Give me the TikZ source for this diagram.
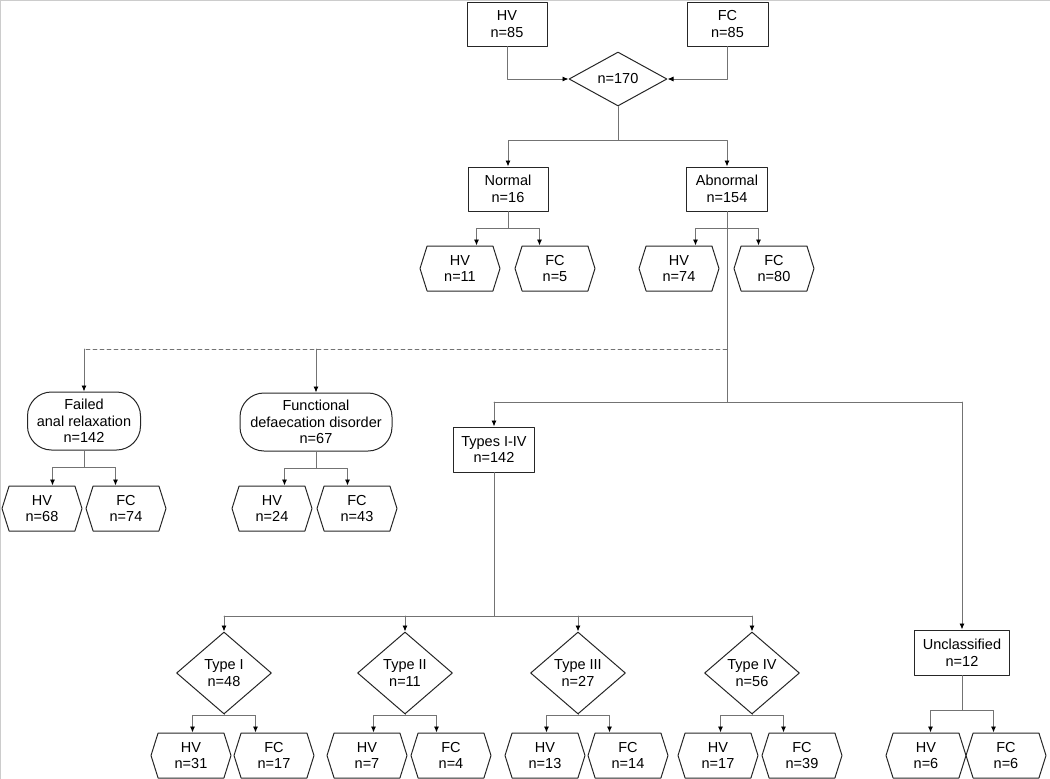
\documentclass[tikz,border=0pt]{standalone}
\usepackage{fontspec}
\setmainfont{Liberation Sans}
\usetikzlibrary{arrows.meta, shapes.geometric, shapes.symbols}

\newcommand\hexfork[5]{%
  \path (#1.south) ++(0,#4) coordinate (#1k) ++(-#5,0) coordinate (#1l) ++(2*#5,0) coordinate (#1r);
  \draw[link] (#1.south) -- (#1k);
  \draw[link] (#1l) -- (#1r);
  \draw[linkarr] (#1l) -- (#2.north -| #1l);
  \draw[linkarr] (#1r) -- (#3.north -| #1r);}

\begin{document}
\begin{tikzpicture}[x=1pt, y=-1pt, line cap=round, line join=round,
  every node/.style={font=\fontsize{14.5}{16.5}\selectfont, align=center, inner sep=0pt, draw=black!85, line width=1pt},
  rbox/.style={rectangle, minimum height=44},
  hexa/.style={signal, signal to=east and west, signal pointer angle=145, minimum width=80, minimum height=45},
  pill/.style={rectangle, rounded corners=24pt, minimum height=58},
  dia/.style={diamond, minimum width=95, minimum height=82},
  link/.style={draw=black!55, line width=0.9pt},
  linkarr/.style={link, -{Latex[length=6pt, width=5pt, color=black]}},
  dashlink/.style={link, dash pattern=on 4pt off 3pt}]
	\useasboundingbox (0,0) rectangle (1050,779);
	\draw[black!20, line width=1.2pt] (0,0.6) -- (1050,0.6) (0.6,0) -- (0.6,779);

	\node[rbox, minimum width=80] (hvTop) at (507,24) {HV\\n=85};
	\node[rbox, minimum width=81] (fcTop) at (727.5,24) {FC\\n=85};
	\node[diamond, minimum width=98, minimum height=54] (total) at (618,79) {n=170};
	\node[rbox, minimum width=80] (normal) at (508,189) {Normal\\n=16};
	\node[rbox, minimum width=81] (abnormal) at (727,189) {Abnormal\\n=154};
	\node[hexa] (nHV) at (460,268.5) {HV\\n=11};
	\node[hexa] (nFC) at (555,268.5) {FC\\n=5};
	\node[hexa] (aHV) at (679,268.5) {HV\\n=74};
	\node[hexa] (aFC) at (774,268.5) {FC\\n=80};

	\node[pill, minimum width=113] (failed) at (84,421) {Failed\\anal relaxation\\n=142};
	\node[pill, minimum width=152] (funct) at (316,422) {Functional\\defaecation disorder\\n=67};
	\node[hexa] (fHV) at (42,508.5) {HV\\n=68};
	\node[hexa] (fFC) at (126,508.5) {FC\\n=74};
	\node[hexa] (dHV) at (272,508.5) {HV\\n=24};
	\node[hexa] (dFC) at (357,508.5) {FC\\n=43};
	\node[rbox, minimum width=81, minimum height=45] (types) at (494,449.5) {Types I-IV\\n=142};

	\node[dia] (t1) at (224,673) {Type I\\n=48};
	\node[dia] (t2) at (405,673) {Type II\\n=11};
	\node[dia] (t3) at (578,673) {Type III\\n=27};
	\node[dia] (t4) at (752,673) {Type IV\\n=56};
	\node[rbox, minimum width=95, minimum height=45] (unclass) at (962,652.5) {Unclassified\\n=12};
	\node[hexa] (t1HV) at (191,755.5) {HV\\n=31};
	\node[hexa] (t1FC) at (274,755.5) {FC\\n=17};
	\node[hexa] (t2HV) at (367,755.5) {HV\\n=7};
	\node[hexa] (t2FC) at (451,755.5) {FC\\n=4};
	\node[hexa] (t3HV) at (545,755.5) {HV\\n=13};
	\node[hexa] (t3FC) at (628,755.5) {FC\\n=14};
	\node[hexa] (t4HV) at (718,755.5) {HV\\n=17};
	\node[hexa] (t4FC) at (802,755.5) {FC\\n=39};
	\node[hexa] (uHV) at (926,755.5) {HV\\n=6};
	\node[hexa] (uFC) at (1006,755.5) {FC\\n=6};

	\draw[linkarr] (hvTop) |- (total);
	\draw[linkarr] (fcTop) |- (total);
	\coordinate (tot) at (618,140);
	\draw[link] (total) -- (tot);
	\draw[linkarr] (tot) -| (normal);
	\draw[linkarr] (tot) -| (abnormal);
	\hexfork{normal}{nHV}{nFC}{17}{31.5}
	\hexfork{abnormal}{aHV}{aFC}{17}{31.5}

	\coordinate (dsh) at (727,349);
	\coordinate (spl) at (727,402);
	\draw[link] (abnormal) -- (spl);
	\draw[dashlink] (dsh) -- (failed.north |- dsh);
	\draw[linkarr] (failed.north |- dsh) -- (failed);
	\draw[linkarr] (funct.north |- dsh) -- (funct);
	\hexfork{failed}{fHV}{fFC}{17}{31.5}
	\hexfork{funct}{dHV}{dFC}{17}{31.5}
	\draw[link] (types.north |- spl) -- (unclass.north |- spl);
	\draw[linkarr] (types.north |- spl) -- (types);
	\draw[linkarr] (unclass.north |- spl) -- (unclass);

	\coordinate (tk) at (494,616);
	\draw[link] (types) -- (tk);
	\draw[link] (t1.north |- tk) -- (t4.north |- tk);
	\foreach \t in {t1,t2,t3,t4}
		\draw[linkarr] (\t.north |- tk) -- (\t);
	\hexfork{t1}{t1HV}{t1FC}{1}{31.5}
	\hexfork{t2}{t2HV}{t2FC}{1}{31.5}
	\hexfork{t3}{t3HV}{t3FC}{1}{31.5}
	\hexfork{t4}{t4HV}{t4FC}{1}{31.5}
	\hexfork{unclass}{uHV}{uFC}{35}{31.5}
\end{tikzpicture}
\end{document}
